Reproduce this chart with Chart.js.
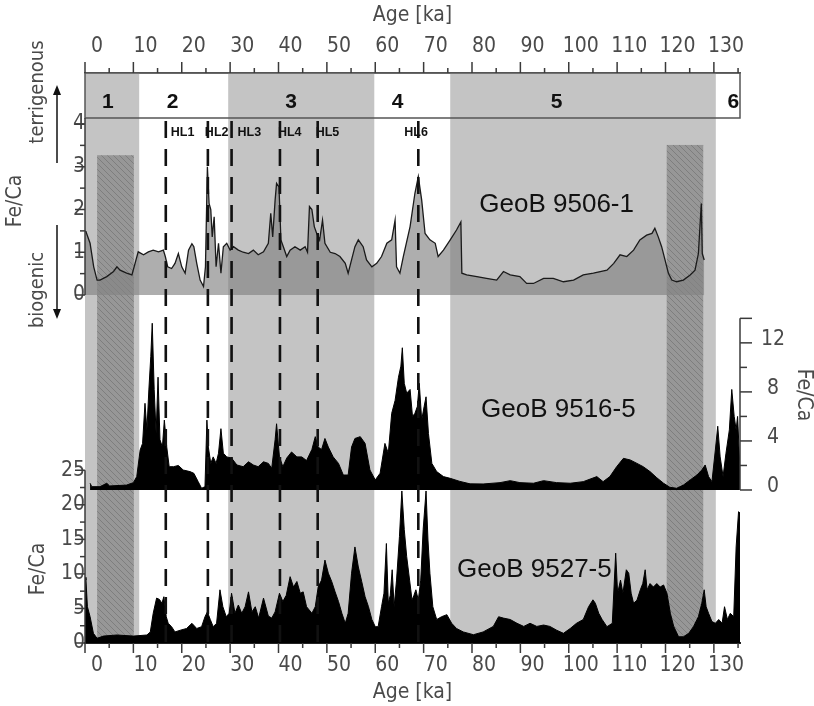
<!DOCTYPE html>
<html><head><meta charset="utf-8">
<script src="https://cdn.jsdelivr.net/npm/chart.js@4.4.1/dist/chart.umd.min.js"></script>
<style>html,body{margin:0;padding:0;background:#fff;}canvas{display:block;}</style>
</head><body>
<canvas id="c" width="814" height="706"></canvas>
<script>
// ---------------- DATA ----------------
const xTickLabels = [0,10,20,30,40,50,60,70,80,90,100,110,120,130];
const y1TickLabels = [0,1,2,3,4];
const y2TickLabels = [0,4,8,12];
const y3TickLabels = [0,5,10,15,20,25];

const stageNames  = ['1','2','3','4','5','6'];
const stageBounds = [-2.5, 8.7, 27.1, 57.3, 73.0, 127.9, 132.9];
const stageShaded = [true, false, true, false, true, false];
const stageLabelAge = [2.2, 15.6, 40.1, 62.1, 95.0, 131.5];

const hatchStart = [0.0, 117.75];
const hatchEnd   = [7.6, 125.3];
const hatchTop   = [3.27, 3.51];

const hlNames = ['HL1','HL2','HL3','HL4','HL5','HL6'];
const hlAges  = [14.2, 22.9, 27.8, 37.8, 45.6, 66.4];

const panelNames = ['GeoB 9506-1','GeoB 9516-5','GeoB 9527-5'];

// GeoB 9506-1 (Fe/Ca, left top axis)
const age9506 = [-2.5,-2.3,-1.45,-0.7,0,0.6,2,3.4,4.1,4.75,6.1,7.2,7.85,8.5,9.6,10.6,11.6,12.7,13.7,14.1,14.6,15.4,16.1,16.8,17.5,18.2,18.9,19.6,20.0,20.6,21.3,22.0,22.4,22.8,23.15,23.5,23.8,24.2,24.6,25.1,25.6,26.1,26.8,27.5,28.2,29.2,30.2,31.3,32.3,33.3,34.4,35.4,35.9,36.3,36.8,37.1,37.6,38.0,38.5,39.2,39.9,40.9,42.0,43.0,43.5,43.9,44.4,44.9,45.4,46.0,46.6,47.1,48.2,49.2,50.2,51.3,51.9,52.6,53.3,54.0,55.0,55.7,56.8,57.8,58.8,59.9,60.9,61.6,61.9,62.6,63.3,64.7,65.7,66.4,67.1,67.8,68.8,69.9,70.5,71.6,73.0,74.3,75.2,75.4,76.4,78.5,80.5,82.6,84.0,85.4,87.4,88.8,90.2,92.3,94.3,96.4,98.5,100.5,102.6,105.4,106.8,108.1,109.5,110.9,112.2,113.6,114.7,115.3,116.0,116.7,117.4,118.1,118.8,119.8,121.2,122.6,123.6,124.3,124.9,125.1,125.5];
const fe9506  = [1.5,1.48,1.21,0.66,0.35,0.35,0.43,0.55,0.66,0.58,0.51,0.47,0.74,1.01,0.94,1.01,1.05,1.01,1.05,0.9,0.66,0.62,0.74,0.97,0.66,0.51,1.05,1.2,1.13,0.74,0.35,0.2,0.66,3.0,2.14,2.0,1.36,1.83,0.66,1.21,0.51,1.13,1.21,1.05,1.13,1.05,1.0,0.97,1.05,0.94,1.01,1.21,1.91,1.36,2.22,2.61,2.53,1.29,1.13,0.9,1.05,1.13,1.05,1.13,1.0,2.07,2.0,1.6,1.44,1.29,1.75,1.21,1.0,0.97,0.9,0.74,0.51,0.82,1.13,1.29,1.13,0.82,0.66,0.74,0.9,1.21,1.29,1.75,0.66,0.51,0.9,1.6,2.38,2.77,2.22,1.44,1.29,1.21,0.9,1.05,1.29,1.52,1.71,0.51,0.47,0.43,0.39,0.35,0.55,0.47,0.43,0.27,0.27,0.39,0.39,0.31,0.35,0.47,0.51,0.58,0.74,0.94,0.9,1.05,1.29,1.4,1.44,1.56,1.36,1.13,0.82,0.51,0.35,0.31,0.35,0.47,0.58,0.97,2.14,0.97,0.82];

// GeoB 9516-5 (Fe/Ca, right axis)
const age9516 = [-1.45,-1.1,0.6,2,2.6,6.1,7.5,8.2,8.9,9.4,9.9,10.3,10.7,11.1,11.4,11.8,12.2,12.6,13.0,13.5,13.9,14.4,14.9,15.8,16.8,17.8,19.2,20.0,20.9,21.6,22.3,22.7,23.0,23.5,24.0,24.6,25.1,25.6,26.1,26.8,27.8,28.9,30.2,31.3,32.3,33.3,34.4,35.4,36.1,36.8,37.1,37.7,38.4,39.2,40.2,41.3,42.3,43.3,44.4,45.1,45.7,46.4,47.1,47.8,48.8,49.9,50.9,51.9,52.6,53.3,54.4,55.4,56.4,57.5,58.5,59.5,60.2,60.9,61.6,62.3,62.8,63.1,63.5,64.0,64.7,65.2,65.7,66.2,66.6,67.1,67.6,68.0,68.5,69.2,70.2,71.6,73.0,75.0,77.1,79.8,83.3,85.4,87.4,90.2,92.3,95.0,97.8,100.5,103.3,104.6,106.0,107.4,108.8,110.2,111.6,112.9,114.3,115.7,117.1,118.4,119.8,121.2,122.6,124.0,125.0,125.7,126.4,127.1,127.8,128.3,128.8,129.4,130.0,130.7,131.2,131.7,132.1,132.4,132.9];
const fe9516  = [0.55,0.27,0.27,0.55,0.33,0.4,0.6,1.09,3.26,3.8,7.07,4.9,8.16,10.9,13.6,8.2,4.6,9.2,4.1,3.5,5.7,3.5,1.9,1.9,2.0,1.63,1.5,1.36,0.68,0.14,0.27,5.7,3.5,2.17,2.7,2.17,3.0,5.0,3.0,2.7,2.6,2.04,1.9,2.3,2.04,1.9,2.3,2.17,1.77,4.1,5.4,2.7,1.9,2.6,3.1,2.7,2.7,2.4,3.3,4.35,3.5,3.3,4.2,3.5,2.7,2.17,1.22,1.22,3.5,4.2,4.35,3.8,1.63,0.82,1.36,3.8,3.0,6.25,7.3,9.2,10.1,11.6,8.7,7.9,8.2,6.0,6.25,6.8,8.7,5.7,6.8,7.6,4.6,2.17,1.5,1.09,0.95,0.7,0.5,0.49,0.6,0.76,0.6,0.55,0.76,0.6,0.55,0.68,1.09,0.68,1.09,1.9,2.58,2.45,2.17,1.9,1.5,1.0,0.55,0.22,0.14,0.4,0.82,1.22,1.63,2.04,1.09,0.68,3.26,5.2,2.7,1.09,3.0,4.9,8.2,6.0,4.9,6.0,1.63];

// GeoB 9527-5 (Fe/Ca, left bottom axis)
const age9527 = [-2.5,-2.3,-2.0,-1.45,-0.76,0,1.3,4.1,7.5,10.3,11.0,11.6,12.3,12.9,13.4,13.8,14.3,14.7,15.4,16.1,17.2,18.5,19.6,20.6,21.6,22.3,22.8,23.4,24.0,24.7,25.4,26.0,26.7,27.3,27.8,28.5,29.2,29.9,30.6,31.3,32.0,32.7,33.4,34.4,35.4,36.1,36.8,37.7,38.4,39.1,39.9,40.6,41.3,42.0,42.6,43.3,44.4,45.1,45.7,46.4,47.1,47.8,48.5,49.2,49.9,50.6,51.3,51.9,52.6,53.3,54.0,54.7,55.4,56.1,56.8,57.5,58.1,58.8,59.3,59.8,60.2,60.6,61.0,61.4,61.9,62.5,63.0,63.5,64.0,64.6,65.1,65.5,65.9,66.4,66.9,67.4,68.0,68.4,68.8,69.4,70.2,71.2,72.3,73.3,74.3,75.7,77.8,79.8,81.9,83.0,84.0,85.4,86.8,88.2,89.5,90.9,92.3,93.6,95.0,96.4,97.8,99.1,100.5,101.6,102.5,103.0,103.7,104.4,105.4,106.5,107.2,107.6,108.2,108.7,109.4,109.9,110.4,110.9,111.6,112.3,112.8,113.3,113.7,114.3,115.0,115.7,116.4,117.1,117.8,118.5,119.2,120.2,121.2,122.3,123.3,124.3,125.0,125.5,125.9,126.4,127.1,127.8,128.5,129.2,129.7,130.3,130.9,131.6,132.1,132.6,132.9];
const fe9527  = [9.5,9.1,5.25,3.8,1.4,0.68,1.0,1.16,1.0,1.16,1.6,4.3,6.5,6.3,5.75,6.7,3.8,2.85,2.36,1.6,1.85,2.1,2.85,2.1,2.36,3.8,4.5,3.4,2.36,2.85,7.7,5.25,3.8,4.3,7.2,4.3,5.5,4.3,5.25,7.4,4.5,5.25,3.6,6.5,3.9,3.6,4.5,7.2,6.0,6.9,9.6,8.1,8.9,7.2,7.4,5.25,4.3,5.25,8.1,9.1,12.0,10.1,8.9,7.4,6.0,4.3,2.85,4.3,10.1,13.9,11.0,8.9,6.7,5.25,3.4,2.36,2.36,5.25,7.2,14.4,5.75,6.9,10.6,5.25,9.1,15.4,22.0,16.4,12.5,9.1,6.2,6.9,7.7,6.2,9.1,16.4,22.0,14.9,10.1,5.25,3.4,3.8,4.1,2.85,2.1,1.6,1.2,1.6,2.4,3.8,3.6,3.4,2.85,2.4,2.85,2.4,2.6,2.4,1.85,1.4,2.1,2.85,3.4,5.25,6.25,5.75,4.3,3.4,2.36,2.85,13.0,7.2,9.1,7.2,10.6,10.1,7.2,5.75,6.2,7.7,8.6,10.6,7.7,8.6,8.1,8.6,8.1,8.4,7.2,4.3,2.4,0.9,0.9,1.4,2.4,3.8,5.75,7.7,5.25,4.3,3.1,2.85,3.4,2.85,5.25,3.4,4.3,3.8,13.9,19.0,18.8];

// ---------------- STYLE ----------------
const NARROW = "'Liberation Sans Narrow','Arial Narrow','DejaVu Sans Condensed',sans-serif";
const SANS = "'Liberation Sans',Arial,sans-serif";
const TXT = '#4a4a4a';
const pts = (a, v) => a.map((x, i) => ({x: x, y: v[i]}));

function makeHatch(ctx) {
  const c = document.createElement('canvas'); c.width = 6; c.height = 6;
  const g = c.getContext('2d');
  g.fillStyle = '#979797'; g.fillRect(0, 0, 6, 6);
  g.strokeStyle = '#7e7e7e'; g.lineWidth = 1;
  g.beginPath();
  g.moveTo(-1, -1); g.lineTo(7, 7);
  g.moveTo(-4, 2); g.lineTo(4, 10);
  g.moveTo(2, -4); g.lineTo(10, 4);
  g.stroke();
  return ctx.createPattern(c, 'repeat');
}

const BOX_BOTTOM = 118;

const decoPlugin = {
  id: 'deco',
  beforeDatasetsDraw(chart) {
    const {ctx, chartArea: ca, scales: {x, y1}} = chart;
    ctx.save();
    ctx.fillStyle = '#c4c4c4';
    for (let i = 0; i < stageNames.length; i++) {
      if (!stageShaded[i]) continue;
      const x0 = x.getPixelForValue(stageBounds[i]);
      const x1 = x.getPixelForValue(stageBounds[i + 1]);
      ctx.fillRect(x0, ca.top, x1 - x0, ca.bottom - ca.top);
    }
    ctx.fillStyle = makeHatch(ctx);
    for (let i = 0; i < hatchStart.length; i++) {
      const x0 = x.getPixelForValue(hatchStart[i]);
      const x1 = x.getPixelForValue(hatchEnd[i]);
      const yt = y1.getPixelForValue(hatchTop[i]);
      ctx.fillRect(x0, yt, x1 - x0, ca.bottom - yt);
    }
    ctx.restore();
  },
  afterDatasetsDraw(chart) {
    const {ctx, chartArea: ca, scales: {x, y1, y2, y3}} = chart;
    ctx.save();
    // stage box
    ctx.strokeStyle = '#555'; ctx.lineWidth = 1.5;
    ctx.strokeRect(ca.left, ca.top, ca.right - ca.left, BOX_BOTTOM - ca.top);
    ctx.fillStyle = '#111';
    ctx.font = 'bold 21px ' + SANS;
    ctx.textAlign = 'center'; ctx.textBaseline = 'alphabetic';
    stageNames.forEach((n, i) => ctx.fillText(n, x.getPixelForValue(stageLabelAge[i]), 108));

    // HL dashed lines
    ctx.strokeStyle = '#111'; ctx.lineWidth = 2.6; ctx.setLineDash([17, 11]);
    hlAges.forEach(a => {
      const px = x.getPixelForValue(a);
      ctx.beginPath(); ctx.moveTo(px, 121); ctx.lineTo(px, ca.bottom); ctx.stroke();
    });
    ctx.setLineDash([]);
    const hlDx = [5, -3, 6, -2, -2, -14];
    ctx.font = 'bold 12.5px ' + SANS; ctx.textAlign = 'left'; ctx.fillStyle = '#111';
    hlNames.forEach((n, i) => ctx.fillText(n, x.getPixelForValue(hlAges[i]) + hlDx[i], 136));

    // panel labels
    ctx.font = '26px ' + SANS; ctx.textAlign = 'center'; ctx.fillStyle = '#111';
    ctx.fillText(panelNames[0], x.getPixelForValue(95.0), y1.getPixelForValue(1.95));
    ctx.fillText(panelNames[1], x.getPixelForValue(95.35), y2.getPixelForValue(5.98));
    ctx.fillText(panelNames[2], x.getPixelForValue(90.4), y3.getPixelForValue(9.5));

    // axis lines & tick marks
    ctx.strokeStyle = '#3a3a3a'; ctx.lineWidth = 1.5;
    const line = (a, b, c, d) => { ctx.beginPath(); ctx.moveTo(a, b); ctx.lineTo(c, d); ctx.stroke(); };
    for (let v = -2.5; v <= 133; v += 5) {
      const px = x.getPixelForValue(v);
      const major = Math.abs(((v + 2.5) % 10)) < 1e-6;
      const len = major ? 11 : 5;
      line(px, ca.top, px, ca.top - len);
      line(px, ca.bottom, px, ca.bottom + (major ? 10 : 5));
    }
    // y1
    line(ca.left, BOX_BOTTOM, ca.left, y1.getPixelForValue(0));
    for (let v = 0; v <= 4; v += 0.5) {
      const py = y1.getPixelForValue(v);
      line(ca.left, py, ca.left - (v % 1 === 0 ? 10 : 5), py);
    }
    // y3
    line(ca.left, y3.getPixelForValue(25), ca.left, ca.bottom);
    for (let v = 0; v <= 25; v += 2.5) {
      const py = y3.getPixelForValue(v);
      line(ca.left, py, ca.left - (v % 5 === 0 ? 10 : 5), py);
    }
    // y2 (right)
    line(ca.right, y2.getPixelForValue(14), ca.right, y2.getPixelForValue(0));
    for (let v = 0; v <= 14; v += 2) {
      const py = y2.getPixelForValue(v);
      line(ca.right, py, ca.right + (v % 4 === 0 || v === 14 ? 12 : 7), py);
    }

    // rotated titles
    const rot = (t, cx, cy, ang, font) => {
      ctx.save(); ctx.translate(cx, cy); ctx.rotate(ang);
      ctx.font = font; ctx.fillStyle = TXT; ctx.textAlign = 'center'; ctx.textBaseline = 'middle';
      ctx.fillText(t, 0, 0); ctx.restore();
    };
    rot('Fe/Ca', 16, 201, -Math.PI / 2, '21px ' + NARROW);
    rot('terrigenous', 38, 92, -Math.PI / 2, '20px ' + NARROW);
    rot('biogenic', 38, 290, -Math.PI / 2, '20px ' + NARROW);
    rot('Fe/Ca', 39, 569, -Math.PI / 2, '21px ' + NARROW);
    rot('Fe/Ca', 803, 395, Math.PI / 2, '21px ' + NARROW);

    // arrows
    ctx.strokeStyle = '#111'; ctx.fillStyle = '#111'; ctx.lineWidth = 1.5;
    line(57, 163, 57, 92);
    ctx.beginPath(); ctx.moveTo(57, 85); ctx.lineTo(53, 95); ctx.lineTo(61, 95); ctx.closePath(); ctx.fill();
    line(57, 225, 57, 311);
    ctx.beginPath(); ctx.moveTo(57, 319); ctx.lineTo(53, 309); ctx.lineTo(61, 309); ctx.closePath(); ctx.fill();
    ctx.restore();
  }
};

const tickFont = {family: NARROW, size: 21};
const hiddenGrid = {drawOnChartArea: false, drawTicks: true, tickColor: 'rgba(0,0,0,0)'};

new Chart(document.getElementById('c'), {
  type: 'line',
  data: {
    datasets: [
      {label: panelNames[0], data: pts(age9506, fe9506), yAxisID: 'y1', xAxisID: 'x',
       borderColor: '#1a1a1a', borderWidth: 1.3, backgroundColor: 'rgba(130,130,130,0.65)', fill: 'origin',
       pointRadius: 0, tension: 0},
      {label: panelNames[1], data: pts(age9516, fe9516), yAxisID: 'y2', xAxisID: 'x',
       borderColor: '#000', borderWidth: 1, backgroundColor: '#000', fill: 'origin',
       pointRadius: 0, tension: 0},
      {label: panelNames[2], data: pts(age9527, fe9527), yAxisID: 'y3', xAxisID: 'x',
       borderColor: '#000', borderWidth: 1, backgroundColor: '#000', fill: 'origin',
       pointRadius: 0, tension: 0}
    ]
  },
  options: {
    responsive: false, animation: false, devicePixelRatio: 1,
    layout: {padding: {left: 85, right: 0, top: 0, bottom: 0}},
    plugins: {legend: {display: false}, tooltip: {enabled: false}},
    scales: {
      x: {
        type: 'linear', position: 'bottom', min: -2.5, max: 132.9,
        afterBuildTicks: s => { s.ticks = xTickLabels.map(v => ({value: v})); },
        afterFit: s => { s.height = 63; },
        grid: Object.assign({tickLength: 8}, hiddenGrid),
        border: {display: true, color: '#222', width: 2},
        ticks: {autoSkip: false, maxRotation: 0, padding: 2, color: TXT, font: tickFont},
        title: {display: true, text: 'Age [ka]', color: TXT, font: tickFont, padding: {top: 0, bottom: 1}}
      },
      xTop: {
        type: 'linear', position: 'top', min: -2.5, max: 132.9,
        afterBuildTicks: s => { s.ticks = xTickLabels.map(v => ({value: v})); },
        afterFit: s => { s.height = 73; },
        grid: Object.assign({tickLength: 11}, hiddenGrid),
        border: {display: true, color: '#555', width: 1.5},
        ticks: {autoSkip: false, maxRotation: 0, padding: 3, color: TXT, font: tickFont},
        title: {display: true, text: 'Age [ka]', color: TXT, font: tickFont, padding: {top: 3, bottom: 0}}
      },
      y1: {
        type: 'linear', position: {x: -2.5}, min: -8.14, max: 5.193,
        afterBuildTicks: s => { s.ticks = y1TickLabels.map(v => ({value: v})); },
        grid: Object.assign({tickLength: 10}, hiddenGrid),
        border: {display: false},
        ticks: {autoSkip: false, padding: 3, color: TXT, font: tickFont}
      },
      y2: {
        type: 'linear', position: 'right', min: -12.48, max: 34.01,
        afterBuildTicks: s => { s.ticks = y2TickLabels.map(v => ({value: v})); },
        afterFit: s => { s.width = 74; },
        grid: Object.assign({tickLength: 12}, hiddenGrid),
        border: {display: false},
        ticks: {autoSkip: false, padding: 9, crossAlign: 'center', labelOffset: -3, color: TXT, font: tickFont}
      },
      y3: {
        type: 'linear', position: {x: -2.5}, min: 0, max: 82.49,
        afterBuildTicks: s => { s.ticks = y3TickLabels.map(v => ({value: v})); },
        grid: Object.assign({tickLength: 10}, hiddenGrid),
        border: {display: false},
        ticks: {autoSkip: false, padding: 7, color: TXT, font: tickFont}
      }
    }
  },
  plugins: [decoPlugin]
});
</script>
</body></html>
